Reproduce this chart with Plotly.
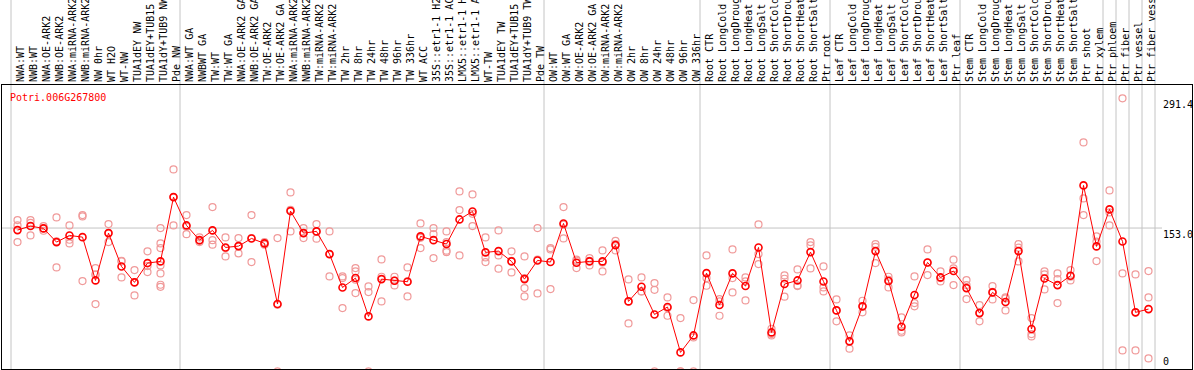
import plotly.graph_objects as go

gene_id = "Potri.006G267800"

categories = [
    "NWA:WT", "NWB:WT", "NWA:OE-ARK2", "NWB:OE-ARK2", "NWA:miRNA-ARK2", "NWB:miRNA-ARK2",
    "NW 0hr", "WT H2O", "WT-NW", "TUA1dEY NW", "TUA1dEY+TUB15 NW", "TUA1dY+TUB9 NW", "Pde NW",
    "NWA:WT GA", "NWBWT GA", "TW:WT", "TW:WT GA", "NWA:OE-ARK2 GA", "NWB:OE-ARK2 GA",
    "TW:OE-ARK2", "TW:OE-ARK2 GA", "NWA:miRNA-ARK2 GA", "NWB:miRNA-ARK2 GA", "TW:miRNA-ARK2",
    "TW:miRNA-ARK2 GA", "TW 2hr", "TW 8hr", "TW 24hr", "TW 48hr", "TW 96hr", "TW 336hr",
    "WT ACC", "35S::etr1-1 H2O", "35S::etr1-1 ACC", "LMX5::etr1-1 H2O", "LMX5::etr1-1 ACC",
    "WT-TW", "TUA1dEY TW", "TUA1dEY+TUB15 TW", "TUA1dY+TUB9 TW", "Pde TW",
    "OW:WT", "OW:WT GA", "OW:OE-ARK2", "OW:OE-ARK2 GA", "OW:miRNA-ARK2", "OW:miRNA-ARK2 GA",
    "OW 2hr", "OW 8hr", "OW 24hr", "OW 48hr", "OW 96hr", "OW 336hr",
    "Root CTR", "Root LongCold", "Root LongDrought", "Root LongHeat", "Root LongSalt",
    "Root ShortCold", "Root ShortDrought", "Root ShortHeat", "Root ShortSalt", "Ptr root",
    "Leaf CTR", "Leaf LongCold", "Leaf LongDrought", "Leaf LongHeat", "Leaf LongSalt",
    "Leaf ShortCold", "Leaf ShortDrought", "Leaf ShortHeat", "Leaf ShortSalt", "Ptr leaf",
    "Stem CTR", "Stem LongCold", "Stem LongDrought", "Stem LongHeat", "Stem LongSalt",
    "Stem ShortCold", "Stem ShortDrought", "Stem ShortHeat", "Stem ShortSalt", "Ptr shoot",
    "Ptr xylem", "Ptr phloem", "Ptr fiber", "Ptr vessel", "Ptr fiber vessel",
]

group_sizes = [13, 28, 12, 10, 10, 11, 1, 1, 1, 1]

means = [
    150.8, 155.1, 152.6, 138.0, 145.1, 143.3, 97.1, 147.6, 112.0, 95.0, 115.6, 117.4, 186.0,
    155.8, 140.1, 150.5, 132.3, 133.7, 141.9, 136.6, 71.9, 171.1, 147.6, 149.4, 125.2, 89.6,
    99.6, 58.7, 98.5, 96.8, 95.7, 144.1, 140.1, 135.9, 162.2, 170.7, 127.0, 128.4, 117.4,
    98.5, 118.4,
    116.7, 157.9, 116.0, 117.4, 117.4, 134.8, 74.7, 90.3, 60.8, 68.7, 20.3, 38.4,
    104.9, 70.8, 104.6, 91.1, 132.3, 41.6, 93.2, 97.1, 127.3, 96.0,
    65.1, 32.0, 69.4, 128.4, 96.4, 47.7, 81.5, 116.3, 100.3, 107.1,
    88.9, 62.2, 84.3, 74.0, 128.4, 45.2, 99.2, 92.1, 102.1, 198.5, 133.4,
    172.9, 138.7, 63.0, 66.5,
]

replicates = [
    [161.5, 155.8, 138.0], [161.5, 158.6, 145.1], [155.1, 152.6, 150.1], [164.3, 111.0, 138.7],
    [155.8, 140.5, 136.6], [166.8, 165.4, 96.4], [110.3, 103.2, 71.9, 103.2], [157.2, 147.6, 138.0],
    [118.1, 117.4, 100.3], [108.1, 81.1, 95.3], [128.1, 106.0, 112.4],
    [153.0, 136.6, 131.6, 113.1, 104.6, 92.5, 90.3], [215.6, 155.8, 186.0],
    [166.8, 146.5, 154.4], [143.0, 138.0, 139.4], [175.4, 140.1, 135.2], [143.0, 122.7, 131.6],
    [142.3, 125.9, 133.7], [166.8, 116.7, 142.3], [136.6, 138.0, 135.2], [142.3, 0.0, 71.1],
    [191.0, 149.4, 172.5], [153.0, 142.3, 147.6], [157.2, 141.6, 149.4], [149.4, 101.4, 125.2],
    [101.4, 67.6, 99.6], [110.3, 106.7, 83.6, 97.8], [90.7, 84.7, 0.0], [119.5, 74.7, 101.0],
    [101.0, 91.8, 96.8], [111.0, 80.0, 96.0], [157.9, 131.6, 142.6], [153.0, 146.5, 120.9],
    [149.4, 128.8, 127.3, 138.0], [192.1, 172.2, 123.8], [188.9, 155.1, 168.2],
    [143.0, 116.7, 121.6], [150.5, 109.6, 123.8], [128.1, 105.6, 118.1],
    [122.7, 99.6, 88.9, 80.0], [153.0, 83.2, 119.2],
    [131.6, 130.2, 87.9], [175.4, 141.9, 156.5], [119.2, 110.3, 118.1], [120.9, 113.1, 118.1],
    [129.1, 106.7, 116.3], [139.4, 129.1, 135.9], [98.2, 51.2, 74.7], [100.3, 85.4, 85.4],
    [94.3, 87.1, 0.0], [79.0, 59.4, 67.6], [56.9, 0.0, 0.0], [76.1, 0.0, 36.3],
    [123.8, 99.6, 91.4], [77.2, 74.7, 59.4], [130.2, 99.6, 84.3], [100.3, 96.0, 75.8],
    [156.9, 125.2, 114.5], [45.5, 39.8, 38.4], [102.4, 98.9, 79.7], [108.8, 91.8, 91.1],
    [138.0, 134.5, 109.9], [112.0, 89.6, 85.4],
    [76.8, 53.4, 65.1], [38.4, 24.2, 32.7], [75.4, 63.0, 69.4], [135.9, 133.0, 115.6],
    [101.0, 89.6, 97.8], [57.6, 41.6, 43.4], [101.4, 72.9, 69.4], [130.2, 102.8, 116.0],
    [106.7, 96.0, 99.6], [119.2, 92.1, 109.9],
    [97.5, 77.2, 92.1], [70.8, 53.4, 62.6], [91.1, 76.8, 85.0], [79.0, 65.1, 77.9],
    [135.9, 117.4, 132.0], [56.9, 39.8, 37.3], [106.7, 87.5, 103.5], [104.6, 72.9, 98.5],
    [108.1, 97.1, 101.0], [244.4, 166.8, 184.6], [144.1, 117.7, 138.4],
    [193.1, 155.8, 169.7], [291.4, 104.6, 22.4], [103.5, 22.4, 63.0], [107.1, 79.0, 13.9],
]

y_tick_values = [291.4, 153.0]
y_bottom_label = "0"

# ---------------------------------------------------------------------------
W, H = 1194, 370
ML, MR, MT, MB = 2, 2, 85, 1
plot_w = W - ML - MR
plot_h = H - MT - MB
n = len(categories)
x_idx = list(range(n))

rep_x, rep_y = [], []
for i, reps in enumerate(replicates):
    rep_x += [i] * len(reps)
    rep_y += reps

mono = "DejaVu Sans Mono"
rep_color = "#f09a9a"
main_color = "#ff0000"
grid_color = "#c4c4c4"

fig = go.Figure()
fig.add_trace(go.Scatter(
    x=rep_x, y=rep_y, mode="markers",
    marker=dict(symbol="circle-open", size=7, color=rep_color, line=dict(width=1.2)),
    hoverinfo="skip", showlegend=False,
))
fig.add_trace(go.Scatter(
    x=x_idx, y=means, mode="lines+markers",
    line=dict(color=main_color, width=1),
    marker=dict(symbol="circle-open", size=7, color=main_color, line=dict(width=1.6)),
    showlegend=False,
))

# group boundary lines
bounds = [-0.5]
for g in group_sizes:
    bounds.append(bounds[-1] + g)
shapes = []
top_ext = (plot_h + MT) / plot_h
for b in bounds:
    shapes.append(dict(type="line", xref="x", yref="paper", x0=b, x1=b, y0=0, y1=top_ext,
                       line=dict(color=grid_color, width=1), layer="below"))
label_x_px = 1163
shapes.append(dict(type="line", xref="paper", yref="y", x0=0, x1=(label_x_px - 1 - ML) / plot_w,
                   y0=y_tick_values[1], y1=y_tick_values[1],
                   line=dict(color=grid_color, width=1), layer="below"))

annotations = [dict(
    text=gene_id, xref="paper", yref="paper", x=(8 - ML) / plot_w, y=1 - (90 - MT) / plot_h,
    xanchor="left", yanchor="top", showarrow=False,
    font=dict(family=mono, size=10, color=main_color),
)]
for v in y_tick_values:
    annotations.append(dict(
        text=f"{v:.1f}", xref="paper", yref="y", x=(label_x_px - ML) / plot_w, y=v,
        xanchor="left", yanchor="top", xshift=-2, yshift=1, showarrow=False,
        font=dict(family=mono, size=10, color="black"),
    ))
annotations.append(dict(
    text=y_bottom_label, xref="paper", yref="paper", x=(label_x_px - ML) / plot_w, y=0,
    xanchor="left", yanchor="bottom", xshift=-2, showarrow=False,
    font=dict(family=mono, size=10, color="black"),
))

# pixel geometry: 13 px per category, first category boundary at x=11
px_per_cat = 13.0
left_bound_px = 11
x0 = -0.5 - (left_bound_px - ML) / px_per_cat
x1 = x0 + plot_w / px_per_cat
# y: 0.937 px per unit, zero slightly below the frame
px_per_unit = 0.937
zero_px = 371.4
y0 = (zero_px - (H - MB)) / px_per_unit
y1 = (zero_px - MT) / px_per_unit

fig.update_layout(
    template="none",
    width=W, height=H,
    margin=dict(l=ML, r=MR, t=MT, b=MB, pad=0),
    paper_bgcolor="white", plot_bgcolor="rgba(0,0,0,0)",
    shapes=shapes, annotations=annotations,
    showlegend=False,
    xaxis=dict(
        range=[x0, x1], side="top", tickmode="array", tickvals=x_idx, ticktext=categories,
        tickangle=-90, tickfont=dict(family=mono, size=10, color="black"),
        ticklabelshift=3,
        ticks="", showgrid=False, zeroline=False, showline=True, mirror=True,
        linecolor="black", linewidth=1, automargin=False, fixedrange=True,
    ),
    yaxis=dict(
        range=[y0, y1], showticklabels=False, ticks="", showgrid=False, zeroline=False,
        showline=True, mirror=True, linecolor="black", linewidth=1, automargin=False,
        fixedrange=True,
    ),
)

fig.write_html(
    "out.html",
    config={"displayModeBar": False},
    post_script="document.body.style.margin='0';document.body.style.overflow='hidden';",
)
